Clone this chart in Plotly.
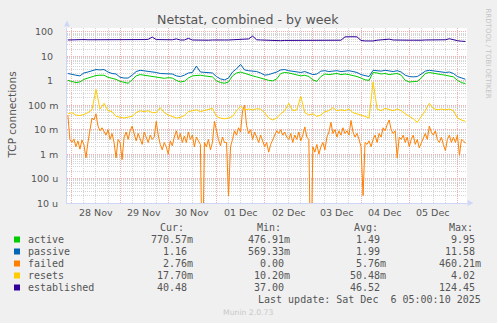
import math
import plotly.graph_objects as go
import pandas as pd

# ---------------- data ----------------
series_names = ["active", "passive", "failed", "resets", "established"]
series_colors = ["#00cc00", "#0066b3", "#ff8000", "#ffcc00", "#330099"]

# 2-hour samples starting 2025-11-27 22:00
established = [47, 48, 47, 48, 49, 48, 48, 49, 48, 47,
               48, 48, 47, 47, 46, 47, 48, 47, 48, 49,
               50, 62, 49, 48, 47, 48, 48, 52, 47, 47,
               55, 47, 46, 47, 46, 46, 47, 46, 46, 47,
               47, 48, 48, 49, 50, 52, 68, 48, 47, 46,
               45, 45, 45, 44, 45, 45, 46, 45, 45, 44,
               45, 45, 45, 45, 45, 45, 45, 45, 46, 63,
               65, 64, 63, 45, 43, 42, 43, 46, 47, 48,
               51, 47, 46, 46, 45, 46, 46, 45, 46, 47,
               47, 48, 48, 49, 48, 53, 47, 44, 42, 41]

passive = [2.0, 1.8, 1.7, 1.6, 2.1, 2.3, 2.6, 2.9, 2.8, 2.9,
           2.3, 2.0, 1.9, 1.4, 1.3, 1.3, 1.7, 2.4, 2.7, 2.6,
           2.4, 2.3, 2.2, 2.0, 2.0, 2.0, 1.9, 1.6, 1.5, 1.7,
           2.1, 2.2, 4.0, 2.3, 2.2, 2.2, 2.1, 1.5, 1.2, 1.1,
           1.3, 2.3, 3.1, 4.7, 2.8, 2.6, 2.5, 2.4, 2.1, 1.7,
           1.8, 2.0, 2.3, 2.8, 2.9, 2.6, 2.5, 2.3, 2.2, 2.4,
           2.1, 1.8, 1.9, 2.5, 2.6, 2.4, 2.5, 2.6, 2.4, 2.5,
           2.6, 2.4, 2.2, 1.8, 1.6, 1.5, 2.7, 2.6, 2.5, 2.7,
           2.5, 2.4, 2.6, 2.3, 1.7, 1.5, 1.45, 1.5, 1.9, 2.5,
           2.7, 2.6, 2.4, 2.3, 2.2, 2.3, 2.0, 1.5, 1.3, 1.16]

active = [1.05, 0.95, 0.85, 0.9, 1.15, 1.3, 1.45, 1.65, 1.7, 1.7,
          1.4, 1.25, 1.15, 0.95, 0.85, 0.8, 1.1, 1.6, 1.8, 1.7,
          1.55, 1.5, 1.4, 1.3, 1.27, 1.35, 1.3, 1.05, 0.9, 0.95,
          1.3, 1.6, 1.7, 1.7, 1.6, 1.5, 1.45, 1.0, 0.85, 0.8,
          0.9, 1.6, 2.1, 2.3, 2.0, 1.8, 1.6, 1.45, 1.3, 1.1,
          1.05, 1.0, 1.2, 2.0, 2.2, 2.1, 1.9, 1.7, 1.6, 1.7,
          1.5, 1.1, 0.95, 1.5, 1.9, 1.8, 1.9, 2.0, 1.8, 1.9,
          1.8, 1.7, 1.5, 1.3, 1.1, 1.05, 2.2, 2.1, 1.9, 2.0,
          1.8, 1.9, 2.0, 1.7, 1.05, 0.9, 0.9, 0.95, 1.3, 2.0,
          2.2, 2.1, 2.0, 1.8, 1.7, 1.6, 1.45, 1.05, 0.85, 0.77]

resets = [0.045, 0.05, 0.04, 0.038, 0.042, 0.05, 0.065, 0.45, 0.07, 0.12,
          0.06, 0.055, 0.035, 0.032, 0.03, 0.033, 0.035, 0.05, 0.06, 0.055,
          0.06, 0.05, 0.05, 0.08, 0.05, 0.04, 0.035, 0.03, 0.032, 0.038,
          0.055, 0.06, 0.065, 0.055, 0.06, 0.07, 0.075, 0.035, 0.03, 0.028,
          0.03, 0.035, 0.06, 0.09, 0.065, 0.07, 0.065, 0.072, 0.07, 0.05,
          0.03, 0.025, 0.03, 0.045, 0.06, 0.12, 0.06, 0.065, 0.23, 0.05,
          0.04, 0.045, 0.035, 0.04, 0.055, 0.06, 0.08, 0.06, 0.065, 0.06,
          0.07, 0.05, 0.045, 0.04, 0.035, 0.03, 0.9, 0.07, 0.06, 0.075,
          0.065, 0.06, 0.07, 0.06, 0.045, 0.035, 0.028, 0.02, 0.035, 0.06,
          0.12, 0.075, 0.065, 0.07, 0.065, 0.07, 0.06, 0.03, 0.025, 0.022]

# 1-hour samples starting 2025-11-27 22:00, in milli-connections/s
failed_milli = [40, 4, 3.0, 4.2, 2.0, 3.5, 1.6, 3.8, 2.4, 0.7,
                3.0, 12, 30, 25, 45, 14, 9, 12, 8, 6,
                10, 4, 7, 3, 0.7, 4, 3, 0.6, 5, 8,
                4, 9, 14, 6, 3.5, 7, 4, 2.5, 8, 5,
                3, 6, 4, 5, 22, 6, 2.5, 1.5, 3, 2,
                1.0, 3.5, 2.2, 5, 9, 4, 7, 3, 5.5, 3,
                8, 4, 6, 2, 5, 3.5, 2.5, 0, 3, 2,
                4, 1.5, 3, 22, 8, 4, 2.2, 5, 3, 3,
                0.02, 2, 4, 9, 6, 12, 8, 60, 100, 15,
                7, 10, 4, 8, 5, 3, 6, 3.5, 2, 3,
                1.2, 2.5, 4, 6, 9, 7, 10, 6, 8, 5,
                4, 7, 3, 6, 4, 8, 3.5, 6, 13, 5,
                4, 0, 2, 1.2, 2.5, 1, 2, 3, 1.5, 5,
                8, 20, 7, 10, 5, 9, 6, 12, 7, 9,
                6, 24, 8, 5, 7, 4, 2, 0.02, 3, 2.5,
                3.5, 2, 4, 6, 3, 7, 5, 12, 9, 16,
                25, 10, 7, 9, 0.7, 5, 4, 6, 3, 5,
                2, 4, 6, 2.5, 4, 1.8, 3, 5, 7, 4,
                14, 8, 6, 9, 4, 3, 5, 2.5, 1.4, 4,
                6, 3, 5, 3, 6, 0.9, 4, 3.5, 2.76]

cur_vals = ["770.57m", "1.16", "2.76m", "17.70m", "40.48"]
min_vals = ["476.91m", "569.33m", "0.00", "10.20m", "37.00"]
avg_vals = ["1.49", "1.99", "5.76m", "50.48m", "46.52"]
max_vals = ["9.95", "11.58", "460.21m", "4.02", "124.45"]

day_labels = ["28 Nov", "29 Nov", "30 Nov", "01 Dec", "02 Dec", "03 Dec", "04 Dec", "05 Dec"]
y_tick_vals = [1e-5, 1e-4, 1e-3, 1e-2, 1e-1, 1, 10, 100]
y_tick_text = ["10\u00a0u", "100\u00a0u", "1\u00a0m", "10\u00a0m", "100\u00a0m",
               "1\u2002", "10\u2002", "100\u2002"]

title_text = "Netstat, combined - by week"
y_title = "TCP connections"
last_update = "Last update: Sat Dec\u00a0 6 05:00:10 2025"

# ---------------- geometry ----------------
W, H = 497, 323
L, R, T, B = 67, 467, 28, 203


def pxx(x):
    return (x - L) / (R - L)


def pxy(y):
    return (B - y) / (B - T)


t2 = pd.date_range("2025-11-27 22:00", periods=len(active), freq="2h")
t1 = pd.date_range("2025-11-27 22:00", periods=len(failed_milli), freq="1h")
failed = [v / 1000.0 for v in failed_milli]
failed_plot = [v if v > 0 else 1e-8 for v in failed]

fig = go.Figure()
data_map = {
    "active": (t2, active),
    "passive": (t2, passive),
    "failed": (t1, failed_plot),
    "resets": (t2, resets),
    "established": (t2, established),
}
for name, col in zip(series_names, series_colors):
    xs, ys = data_map[name]
    fig.add_trace(go.Scatter(x=xs, y=ys, mode="lines", name=name,
                             line=dict(color=col, width=1), hoverinfo="skip"))

noons = pd.date_range("2025-11-28 12:00", periods=len(day_labels), freq="D")

mgrid = "#f4b0b0"
grid = "#d4d4d4"
axis_col = "#CFD6F8"
font_col = "#555555"

fig.update_layout(
    width=W, height=H,
    margin=dict(l=L, r=W - R, t=T, b=H - B, pad=0),
    paper_bgcolor="#f0f0f0", plot_bgcolor="#ffffff",
    showlegend=False,
    font=dict(family="DejaVu Sans", color=font_col, size=10),
    xaxis=dict(
        type="date",
        range=["2025-11-27 21:34", "2025-12-06 04:46"],
        tickmode="linear", tick0="2025-11-28", dtick=86400000,
        showticklabels=False,
        showgrid=True, gridcolor=mgrid, griddash="1px,1px", gridwidth=1,
        minor=dict(tickmode="linear", dtick=6 * 3600 * 1000, tick0="2025-11-28", showgrid=True,
                   gridcolor=grid, griddash="1px,1px", gridwidth=1),
        showline=True, linecolor=axis_col, linewidth=1,
        zeroline=False, ticks="", fixedrange=True,
    ),
    yaxis=dict(
        type="log", range=[-5, 2.163],
        tickmode="linear", tick0=0, dtick=1,
        showticklabels=False,
        showgrid=True, gridcolor=mgrid, griddash="1px,1px", gridwidth=1,
        minor=dict(dtick="D1", showgrid=True,
                   gridcolor=grid, griddash="1px,1px", gridwidth=1),
        showline=True, linecolor=axis_col, linewidth=1,
        zeroline=False, ticks="", fixedrange=True,
    ),
)

ann = []
# title
ann.append(dict(text=title_text, x=pxx(248), y=pxy(20), xref="paper", yref="paper",
                showarrow=False, xanchor="center", yanchor="middle",
                font=dict(size=12.6, color=font_col)))
# y axis title
ann.append(dict(text=y_title, x=pxx(11.5), y=pxy(115), xref="paper", yref="paper",
                showarrow=False, textangle=-90, xanchor="center", yanchor="middle",
                font=dict(size=10.5, color=font_col)))
# y tick labels
for v, lab in zip(y_tick_vals, y_tick_text):
    ann.append(dict(text=lab, x=pxx(59.5), y=math.log10(v), xref="paper", yref="y",
                    showarrow=False, xanchor="right", yanchor="middle",
                    font=dict(size=9.5, color=font_col)))
# x tick labels (at noon of each day)
for tx, lab in zip(noons, day_labels):
    ann.append(dict(text=lab, x=tx, y=pxy(212.5), xref="x", yref="paper",
                    showarrow=False, xanchor="center", yanchor="middle",
                    font=dict(size=9.5, color=font_col)))
# rrdtool watermark
ann.append(dict(text="RRDTOOL / TOBI OETIKER", x=pxx(487.5), y=pxy(53), xref="paper", yref="paper",
                showarrow=False, textangle=90, xanchor="center", yanchor="middle",
                font=dict(size=7, color="#c4c4c4")))
# legend
mono = "DejaVu Sans Mono"
hdr_y = 227.7
row_y = [239.5, 251.5, 263.5, 275.5, 287.5]
for hx, htxt in zip([158, 255, 351.5, 446.5], ["Cur:", "Min:", "Avg:", "Max:"]):
    ann.append(dict(text=htxt, x=pxx(hx), y=pxy(hdr_y), xref="paper", yref="paper",
                    showarrow=False, xanchor="left", yanchor="middle",
                    font=dict(family=mono, size=10, color=font_col)))
col_ends = [194.5, 291.8, 388.3, 482.8]
shapes = []
for i, name in enumerate(series_names):
    yc = row_y[i]
    shapes.append(dict(type="rect", xref="paper", yref="paper",
                       x0=pxx(14), x1=pxx(20), y0=pxy(yc + 3), y1=pxy(yc - 3),
                       fillcolor=series_colors[i], line=dict(width=0)))
    ann.append(dict(text=name, x=pxx(26), y=pxy(yc), xref="paper", yref="paper",
                    showarrow=False, xanchor="left", yanchor="middle",
                    font=dict(family=mono, size=10, color=font_col)))
    for ce, vals in zip(col_ends, [cur_vals, min_vals, avg_vals, max_vals]):
        s = vals[i]
        if not s[-1].isalpha():
            s = s + "\u00a0"
        ann.append(dict(text=s, x=pxx(ce), y=pxy(yc), xref="paper", yref="paper",
                        showarrow=False, xanchor="right", yanchor="middle",
                        font=dict(family=mono, size=10, color=font_col)))
ann.append(dict(text=last_update, x=pxx(482.8), y=pxy(299.7), xref="paper", yref="paper",
                showarrow=False, xanchor="right", yanchor="middle",
                font=dict(family=mono, size=10, color=font_col)))
ann.append(dict(text="Munin 2.0.73", x=pxx(248), y=pxy(312), xref="paper", yref="paper",
                showarrow=False, xanchor="center", yanchor="middle",
                font=dict(size=7.7, color="#c8c8c8")))

# axis arrows
shapes.append(dict(type="path", xref="paper", yref="paper",
                   path="M %f,%f L %f,%f L %f,%f Z" % (pxx(64), pxy(26.5), pxx(67), pxy(20.5), pxx(70), pxy(26.5)),
                   fillcolor=axis_col, line=dict(width=0)))
shapes.append(dict(type="path", xref="paper", yref="paper",
                   path="M %f,%f L %f,%f L %f,%f Z" % (pxx(467.5), pxy(200), pxx(473.5), pxy(203), pxx(467.5), pxy(206)),
                   fillcolor=axis_col, line=dict(width=0)))

fig.update_layout(annotations=ann, shapes=shapes)

fig.write_html("out.html", config={"displayModeBar": False, "staticPlot": True})
